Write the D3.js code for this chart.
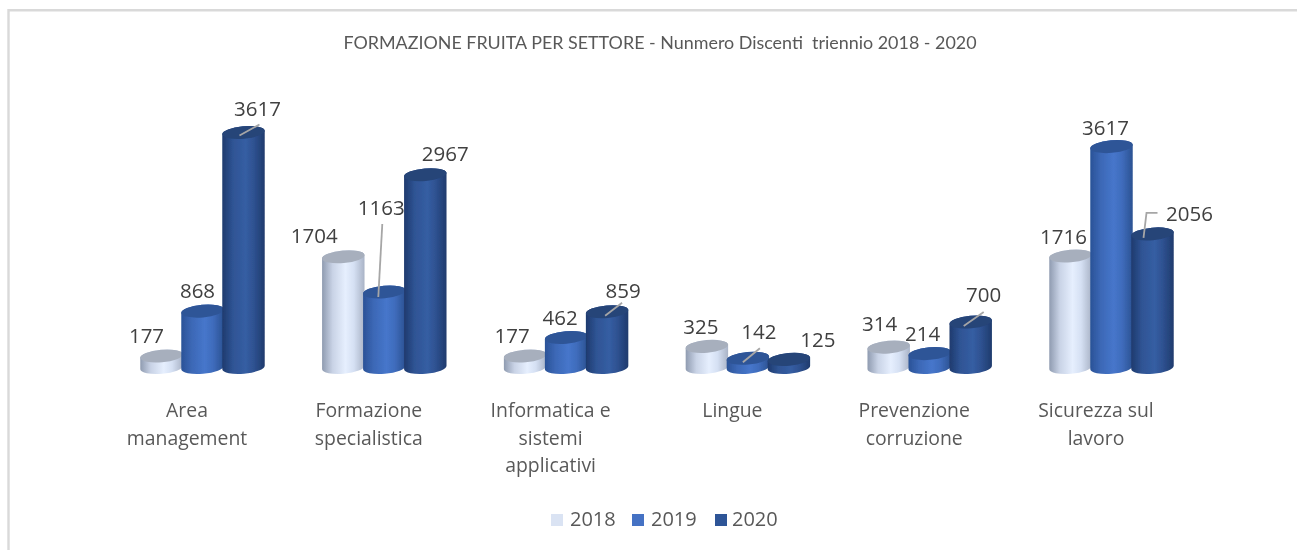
<!DOCTYPE html>
<html><head><meta charset="utf-8">
<script src="https://cdn.jsdelivr.net/npm/d3@7"></script>
<style>html,body{margin:0;padding:0;background:#fff}svg{display:block}text{font-family:"Open Sans","Noto Sans",sans-serif}</style>
</head><body><div id="c"></div>
<script>
const titleText = "FORMAZIONE FRUITA PER SETTORE - Nunmero Discenti  triennio 2018 - 2020";
const categories = ["Area|management","Formazione|specialistica","Informatica e|sistemi|applicativi","Lingue","Prevenzione|corruzione","Sicurezza sul|lavoro"];
const seriesNames = ["2018","2019","2020"];
// bar heights as drawn in the picture
const values2018 = [177,1704,177,325,314,1716];
const values2019 = [868,1163,462,142,214,3400];
const values2020 = [3617,2967,859,125,700,2056];
// data labels as printed in the picture
const labels2018 = [177,1704,177,325,314,1716];
const labels2019 = [868,1163,462,142,214,3617];
const labels2020 = [3617,2967,859,125,700,2056];

const W=1297,H=550;
const svg=d3.select("#c").append("svg").attr("width",W).attr("height",H);
const defs=svg.append("defs");
const palettes=[
 {id:"g0",stops:["#8f9bb0","#c9d3e6","#e6effe","#d5e0f3","#a9b3c6"],top:"#a7afbd",sw:"#dae3f3"},
 {id:"g1",stops:["#2a5297","#3c68b6","#4676cb","#3f6cbc","#2b5292"],top:"#2f5597",sw:"#4472c4"},
 {id:"g2",stops:["#1e3a6e","#2f5494","#355ea3","#2e5190","#1f3b6d"],top:"#264478",sw:"#2f5597"}
];
palettes.forEach(p=>{
  const g=defs.append("linearGradient").attr("id",p.id).attr("x1","0").attr("x2","1").attr("y1","0").attr("y2","0");
  p.stops.forEach((c,i)=>g.append("stop").attr("offset",[0,.25,.55,.75,1][i]).attr("stop-color",c));
});
defs.append("filter").attr("id","soft").append("feGaussianBlur").attr("stdDeviation",0.5);

// frame
const frame=svg.append("g").attr("fill","none").attr("stroke","#d9d9d9").attr("stroke-width",2.4);
frame.append("path").attr("d","M8.5,550V10.3H1297");

const plot=svg.append("g").attr("filter","url(#soft)");

plot.append("text").attr("x",660).attr("y",49).attr("text-anchor","middle").attr("font-size",17.9).attr("fill","#595959")
  .style("font-family","Lato, 'Open Sans', sans-serif")
  .attr("xml:space","preserve").style("white-space","pre").text(titleText);

const x=d3.scaleBand().domain(d3.range(categories.length)).range([141,141+181.8*6]).paddingInner(0).paddingOuter(0);
const inner=d3.scaleBand().domain(seriesNames).range([0,123]);
const y=d3.scaleLinear().domain([0,3617]).range([367.5,132.5]);
const rx=21.3, ry=6.3, ang=-5*Math.PI/180;
const ex=rx*Math.cos(ang), ey=rx*Math.sin(ang);
const rot=-5;
function bodyPath(cx,ty,by){
  return `M${cx-ex},${ty-ey}A${rx},${ry},${rot},0,1,${cx+ex},${ty+ey}L${cx+ex},${by+ey}A${rx},${ry},${rot},0,1,${cx-ex},${by-ey}Z`;
}
function topPath(cx,ty){
  return `M${cx-ex},${ty-ey}A${rx},${ry},${rot},0,1,${cx+ex},${ty+ey}A${rx},${ry},${rot},0,1,${cx-ex},${ty-ey}Z`;
}
const seriesValues=[values2018,values2019,values2020];
const seriesLabels=[labels2018,labels2019,labels2020];
const bars=[];
categories.forEach((c,i)=>seriesNames.forEach((s,j)=>bars.push({i,j,v:seriesValues[j][i],lab:seriesLabels[j][i],s})));
const cx=d=>x(d.i)+inner(d.s)+20.5;

const g=plot.selectAll("g.bar").data(bars).join("g").attr("class","bar");
g.append("path").attr("d",d=>bodyPath(cx(d),y(d.v),y(0))).attr("fill",d=>`url(#${palettes[d.j].id})`);
g.append("path").attr("d",d=>topPath(cx(d),y(d.v))).attr("fill",d=>palettes[d.j].top);

// label placement relative to bar top centre [dx, baseline dy], by category then series
const labelOffset=[
 [[-15,-13],[-5,-13],[14,-17]],
 [[-29,-14],[-3,-77],[20,-14]],
 [[-13,-13],[-6,-12],[16,-14]],
 [[-6,-12],[11,-19],[29,-12]],
 [[-9,-16],[-7,-13],[13,-20]],
 [[-7,-12],[-6,-12],[37,-13]]
];
const labG=plot.append("g");
// leader lines relative to bar top centre
const leaders=[
 {i:0,j:2,pts:[[-4,3],[16,-8]]},
 {i:1,j:1,pts:[[-6,5],[-2,-68]]},
 {i:2,j:2,pts:[[-2,4],[15,-9]]},
 {i:3,j:1,pts:[[-5,4],[12,-10]]},
 {i:4,j:2,pts:[[-7,4],[13,-10]]},
 {i:5,j:2,pts:[[-9,4],[-6,-21],[5,-21]]}
];
labG.selectAll("path").data(leaders).join("path")
  .attr("fill","none").attr("stroke","#a6a6a6").attr("stroke-width",1.8)
  .attr("d",l=>{
    const d=bars.find(b=>b.i===l.i&&b.j===l.j);
    return d3.line()(l.pts.map(p=>[cx(d)+p[0],y(d.v)+p[1]]));
  });
labG.selectAll("text").data(bars).join("text")
  .attr("x",d=>cx(d)+labelOffset[d.i][d.j][0])
  .attr("y",d=>y(d.v)+labelOffset[d.i][d.j][1])
  .attr("text-anchor","middle").attr("font-size",20.5).attr("fill","#404040")
  .text(d=>d.lab);

// category labels
const axis=plot.append("g");
categories.forEach((c,i)=>{
  const t=axis.append("text").attr("text-anchor","middle").attr("font-size",19.4).attr("fill","#595959");
  c.split("|").forEach((ln,k)=>t.append("tspan").attr("x",x(i)+46).attr("y",417+k*27.5).text(ln));
});

// legend
const legendX=[551,632,715];
const legendTextX=[570,651,732];
const leg=plot.selectAll("g.leg").data(seriesNames).join("g").attr("class","leg");
leg.append("rect").attr("x",(d,i)=>legendX[i]).attr("y",514).attr("width",12).attr("height",12).attr("fill",(d,i)=>palettes[i].sw);
leg.append("text").attr("x",(d,i)=>legendTextX[i]).attr("y",526).attr("font-size",20).attr("fill","#595959").text(d=>d);
</script></body></html>
